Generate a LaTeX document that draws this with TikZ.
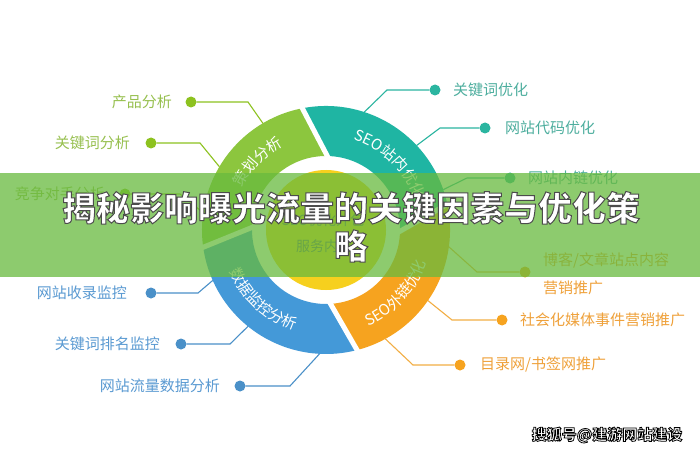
\documentclass[tikz,border=0pt]{standalone}
\usepackage{fontspec}
\newfontfamily\cjk{Noto Sans CJK SC}
\usetikzlibrary{decorations.text}
\definecolor{cgreen}{HTML}{8CC63E}
\definecolor{cteal}{HTML}{1FB5A3}
\definecolor{cblue}{HTML}{4499D8}
\definecolor{corange}{HTML}{F6A31F}
\definecolor{cyellow}{HTML}{F6D01E}
\definecolor{cband}{HTML}{68BA3E}
\definecolor{tgreen}{HTML}{97C04F}
\definecolor{tteal}{HTML}{4DAE9E}
\definecolor{tblue}{HTML}{5A9AD2}
\definecolor{torange}{HTML}{EFA13A}
\definecolor{lgreen}{HTML}{8DC21F}
\definecolor{lteal}{HTML}{2BB5A0}
\definecolor{lblue}{HTML}{4A90C8}
\definecolor{lorange}{HTML}{F2AE45}
\newcommand\ringf{\cjk\fontsize{15}{15}\selectfont\color{white}}
\newcommand\outlinedtext[3]{\color{white}\special{pdf:literal direct #1 RG #2 w 2 Tr}#3\special{pdf:literal direct 0 Tr}}
\begin{document}
\begin{tikzpicture}[x=1pt,y=1pt,
  lbl/.style={font=\cjk\fontsize{15}{15}\selectfont, inner sep=0pt},
  dotnode/.style={circle, inner sep=0pt, minimum size=11pt},
  conn/.style={line width=1.1pt},
  gapline/.style={white, line width=5pt, shorten <=-3pt, shorten >=-3pt},
  ringtext/.style={decorate, decoration={text along path, text align=center, text={#1}}}
]
\path[use as bounding box] (0,0) rectangle (700,453);
\fill[white] (0,0) rectangle (700,453);
\coordinate (C) at (326,223);

% ring segments
\begin{scope}[shift={(326,223)}]
\fill[cteal] (12:124) arc[start angle=12, end angle=101, radius=124] -- (89:74) arc[start angle=89, end angle=-1, radius=74] -- cycle;
\fill[cgreen] (101:124) arc[start angle=101, end angle=188, radius=124] -- (178:74) arc[start angle=178, end angle=89, radius=74] -- cycle;
\fill[cblue] (188:124) arc[start angle=188, end angle=284.5, radius=124] -- (273.5:74) arc[start angle=273.5, end angle=178, radius=74] -- cycle;
\fill[corange] (284.5:124) arc[start angle=284.5, end angle=372, radius=124] -- (359:74) arc[start angle=359, end angle=273.5, radius=74] -- cycle;
\coordinate (g1a) at (89:74); \coordinate (g1b) at (101:124);
\coordinate (g2a) at (178:74); \coordinate (g2b) at (188:124);
\coordinate (g3a) at (273.5:74); \coordinate (g3b) at (284.5:124);
\coordinate (g4a) at (-1:74); \coordinate (g4b) at (12:124);
\draw[gapline] (g1a) -- (g1b);
\draw[gapline] (g2a) -- (g2b);
\draw[gapline] (g3a) -- (g3b);
\draw[gapline] (g4a) -- (g4b);
% ring texts
\path[ringtext={|\ringf|策划分析}] (175:94) arc[start angle=175, end angle=95, radius=94];
\path[ringtext={|\ringf|SEO站内优化}] (90:94) arc[start angle=90, end angle=2, radius=94];
\path[ringtext={|\ringf|SEO外链优化}] (-84:105) arc[start angle=-84, end angle=0, radius=105];
\path[ringtext={|\ringf|数据监控分析}] (186:105) arc[start angle=186, end angle=270, radius=105];
\end{scope}

% centre disk
\node[circle, fill=cyellow, minimum size=120pt, inner sep=0pt] (disk) at (C) {};
\node[font=\cjk\fontsize{14}{14}\selectfont, text=black!60] (dt1) at (323,233) {SEO优化外包};
\node[font=\cjk\fontsize{14}{14}\selectfont, text=black!60] (dt2) at (324,207) {服务内容};

% green labels
\node[dotnode, fill=lgreen] (d1) at (191,351) {};
\node[lbl, text=tgreen, anchor=east] (t1) at (172,351) {产品分析};
\coordinate (k1) at (248,351);
\draw[conn, lgreen] (d1) -- (k1) -- ([shift={(120.6:124)}]C);

\node[dotnode, fill=lgreen] (d2) at (151,310) {};
\node[lbl, text=tgreen, anchor=east] (t2) at (130,310) {关键词分析};
\coordinate (k2) at (200,310);
\draw[conn, lgreen] (d2) -- (k2) -- ([shift={(149.3:124)}]C);

\node[dotnode, fill=lgreen] (d3) at (125,259) {};
\node[lbl, text=tgreen, anchor=east] (t3) at (105,259) {竞争对手分析};
\coordinate (k3) at (180,259);
\draw[conn, lgreen] (d3) -- (k3) -- ([shift={(172:124)}]C);

% blue labels
\node[dotnode, fill=lblue] (d4) at (151,160) {};
\node[lbl, text=tblue, anchor=east] (t4) at (127,160) {网站收录监控};
\coordinate (k4) at (198,160);
\draw[conn, lblue] (d4) -- (k4) -- ([shift={(204:124)}]C);

\node[dotnode, fill=lblue] (d5) at (181,109) {};
\node[lbl, text=tblue, anchor=east] (t5) at (160,109) {关键词排名监控};
\coordinate (k5) at (230,109);
\draw[conn, lblue] (d5) -- (k5) -- ([shift={(231:124)}]C);

\node[dotnode, fill=lblue] (d6) at (240,67) {};
\node[lbl, text=tblue, anchor=east] (t6) at (220,67) {网站流量数据分析};
\coordinate (k6) at (290,67);
\draw[conn, lblue] (d6) -- (k6) -- ([shift={(267:124)}]C);

% teal labels
\node[dotnode, fill=lteal] (d7) at (435,363) {};
\node[lbl, text=tteal, anchor=west] (t7) at (453,363) {关键词优化};
\coordinate (k7) at (387,363);
\draw[conn, lteal] (d7) -- (k7) -- ([shift={(72:124)}]C);

\node[dotnode, fill=lteal] (d8) at (485,325) {};
\node[lbl, text=tteal, anchor=west] (t8) at (505,325) {网站代码优化};
\coordinate (k8) at (440,325);
\draw[conn, lteal] (d8) -- (k8) -- ([shift={(43:124)}]C);

\node[dotnode, fill=lteal] (d9) at (510,275) {};
\node[lbl, text=tteal, anchor=west] (t9) at (528,275) {网站内链优化};
\coordinate (k9) at (467,275);
\draw[conn, lteal] (d9) -- (k9) -- ([shift={(19:124)}]C);

% orange labels
\node[dotnode, fill=corange] (d10) at (525,181) {};
\node[lbl, text=torange, anchor=west, align=left, font=\cjk\fontsize{15}{28}\selectfont] (t10) at (543,179) {博客/文章站点内容\\营销推广};
\coordinate (k10) at (477,181);
\draw[conn, lorange] (d10) -- (k10) -- ([shift={(-7.8:124)}]C);

\node[dotnode, fill=corange] (d11) at (502,133) {};
\node[lbl, text=torange, anchor=west] (t11) at (520,133) {社会化媒体事件营销推广};
\coordinate (k11) at (452,133);
\draw[conn, lorange] (d11) -- (k11) -- ([shift={(-34.7:124)}]C);

\node[dotnode, fill=corange] (d12) at (460,88) {};
\node[lbl, text=torange, anchor=west] (t12) at (480,88) {目录网/书签网推广};
\coordinate (k12) at (413,88);
\draw[conn, lorange] (d12) -- (k12) -- ([shift={(-61.4:124)}]C);

% band
\fill[cband, opacity=0.75] (0,176) rectangle (700,280);

% title
\begin{scope}[font=\cjk\bfseries\fontsize{34}{34}\selectfont]
\node (title1) at (351,245) {\outlinedtext{0.3 0.3 0.3}{1}{揭秘影响曝光流量的关键因素与优化策}};
\node (title2) at (351,207) {\outlinedtext{0.3 0.3 0.3}{1}{略}};
\end{scope}

% watermark
\node[font=\cjk\bfseries\fontsize{15}{15}\selectfont] (wm) at (607,18) {\outlinedtext{0 0 0}{0.8}{搜狐号@建游网站建设}};
\end{tikzpicture}
\end{document}
